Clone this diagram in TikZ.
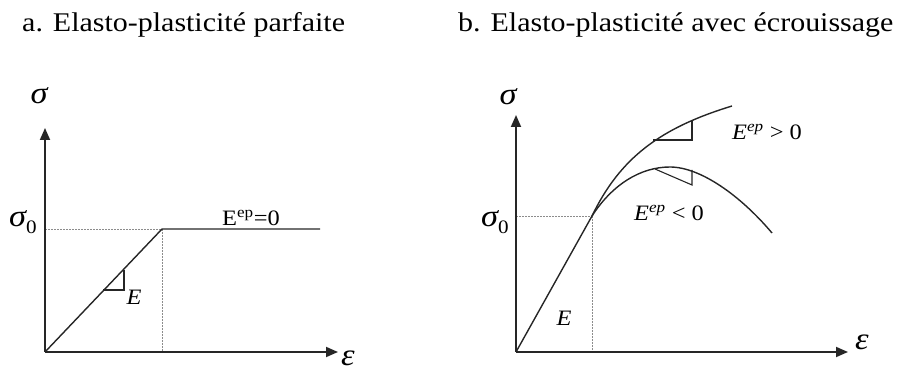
\documentclass[tikz,border=0pt]{standalone}
\usepackage{fontspec}
\setmainfont{Liberation Serif}[FakeStretch=1.11]
\usetikzlibrary{arrows.meta}
\newcommand{\sgm}{{\itshape σ}}
\begin{document}
\begin{tikzpicture}[x=1pt,y=-1pt,
  axis/.style={draw=black!85,line width=1.8pt,-{Triangle[length=12pt,width=10pt]}},
  curve/.style={draw=black!85,line width=1.4pt},
  guide/.style={draw=black!45,line width=0.8pt,dash pattern=on 2pt off 1pt},
  tri/.style={draw=black!85,line width=1.1pt},
  title/.style={font=\fontsize{27}{30}\selectfont,anchor=base west,inner sep=0pt},
  lab/.style={font=\fontsize{22}{24}\selectfont,inner sep=0pt},
  big/.style={font=\fontsize{31}{31}\selectfont,inner sep=0pt}]
\useasboundingbox (0,0) rectangle (903,371);
% titles
\node[title] (ta) at (22,32) {a. Elasto-plasticité parfaite};
\node[title] (tb) at (458,32) {b. Elasto-plasticité avec écrouissage};
% ---- left diagram
\coordinate (O1) at (45,352);
\coordinate (Y1) at (45,128);
\coordinate (X1) at (338,352);
\coordinate (K1) at (162,229);
\coordinate (S1) at (45,229);
\coordinate (B1) at (162,352);
\coordinate (H1) at (320,229);
\draw[guide] (S1) -- (K1);
\draw[guide] (K1) -- (B1);
\draw[axis] (O1) -- (Y1);
\draw[axis] (O1) -- (X1);
\draw[curve] (O1) -- (K1) -- (H1);
\coordinate (t1a) at (103,290);
\coordinate (t1b) at (124,290);
\coordinate (t1c) at (124,270);
\draw[tri] (t1a) -- (t1b) -- (t1c);
\node[big] (sig1) at (39,96) {\sgm};
\node[big] (sig01) at (23,222) {\sgm\raisebox{-0.25em}{\fontsize{19}{19}\selectfont 0}};
\node[lab] (E1) at (134,297) {\itshape E};
\node[lab] (Ep1) at (251,218) {E\textsuperscript{ep}=0};
\node[big] (eps1) at (348,358) {\itshape ε};
% ---- right diagram
\coordinate (O2) at (516,352);
\coordinate (Y2) at (516,115);
\coordinate (X2) at (848,352);
\coordinate (P2) at (592,216);
\coordinate (S2) at (516,216);
\coordinate (B2) at (592,352);
\coordinate (U2) at (732,106);
\coordinate (M2) at (670,167);
\coordinate (L2) at (772,233);
\draw[guide] (S2) -- (P2);
\draw[guide] (P2) -- (B2);
\draw[axis] (O2) -- (Y2);
\draw[axis] (O2) -- (X2);
\draw[curve] (O2) -- (P2);
\draw[curve] (P2) .. controls (620,158) and (660,128) .. (U2);
\draw[curve] (P2) .. controls (612,185) and (640,167) .. (M2)
             .. controls (700,167) and (740,195) .. (L2);
\coordinate (t2a) at (653,140);
\coordinate (t2b) at (692,140);
\coordinate (t2c) at (692,121);
\draw[tri] (t2a) -- (t2b) -- (t2c);
\coordinate (t3a) at (655,169);
\coordinate (t3b) at (692,185);
\coordinate (t3c) at (692,170);
\draw[tri] (t3a) -- (t3b) -- (t3c);
\node[big] (sig2) at (508,97) {\sgm};
\node[big] (sig02) at (495,222) {\sgm\raisebox{-0.25em}{\fontsize{19}{19}\selectfont 0}};
\node[lab] (E2) at (564,318) {\itshape E};
\node[lab] (Ep2) at (767,132) {\itshape E\textsuperscript{ep} \upshape> 0};
\node[lab] (Em2) at (669,213) {\itshape E\textsuperscript{ep} \upshape< 0};
\node[big] (eps2) at (862,342) {\itshape ε};
\end{tikzpicture}
\end{document}
